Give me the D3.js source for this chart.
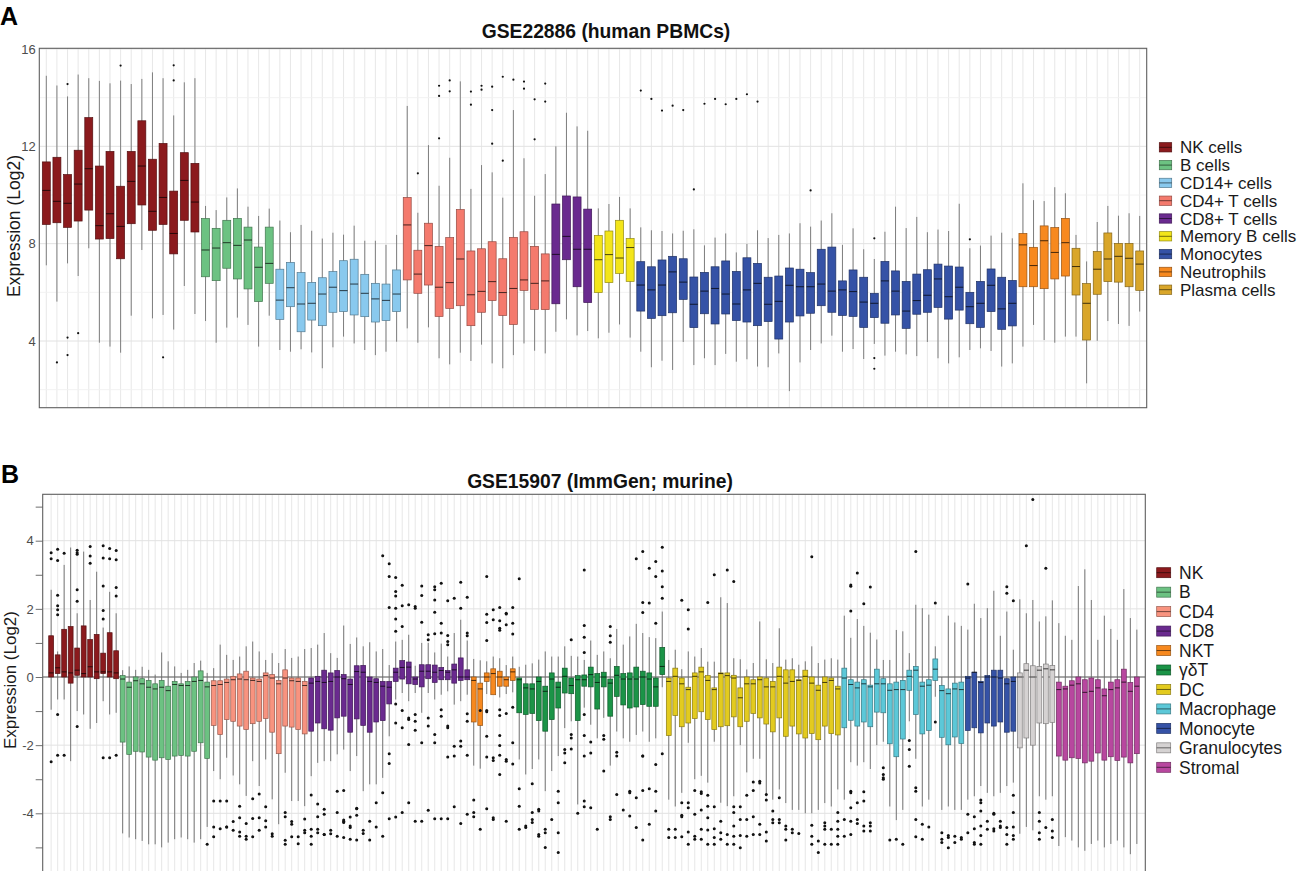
<!DOCTYPE html>
<html><head><meta charset="utf-8">
<script src="https://cdn.jsdelivr.net/npm/d3@7"></script>
<style>body{margin:0;background:#fff}svg{display:block;font-family:"Liberation Sans",Arial,Helvetica,sans-serif}</style>
</head><body>
<svg id="c" width="1299" height="871"></svg>
<script>
// ===== Panel A: GSE22886 (human PBMCs) — rows: [lowWhisker, Q1, median, Q3, highWhisker, outliers]
const aGroups = ["NK cells","B cells","CD14+ cells","CD4+ T cells","CD8+ T cells","Memory B cells","Monocytes","Neutrophils","Plasma cells"];
const aColors = ["#8b1a1d","#6cc282","#89c9ee","#f47a6d","#6a2a8f","#f3e51a","#3552a6","#f7891f","#d9a62a"];
const aNK = [
 [7.11,8.79,10.19,11.36,14.9,[]],[5.62,8.86,9.74,11.55,14.5,[3.12]],[7.19,8.67,9.66,10.84,14.05,[14.56,4.14,3.42]],
 [6.67,8.93,10.45,11.84,14.95,[4.32]],[7.81,9.38,11.08,13.18,14.8,[]],[3.93,8.19,8.74,11.19,14.69,[]],
 [3.77,8.21,9.23,11.79,14.59,[]],[3.52,7.38,8.71,10.36,14.7,[15.32]],[5.04,8.82,10.56,11.79,14.56,[]],
 [7.74,9.59,11.19,13.05,14.77,[]],[4.93,8.55,9.33,11.47,15.04,[]],[5.07,8.79,9.9,12.12,14.8,[3.33]],
 [4.47,7.58,8.42,10.16,13.27,[15.33,14.71]],[6.26,8.96,10.6,11.74,14.63,[]],[5.11,8.48,9.71,11.3,14.8,[]]];
const aB = [
 [4.82,6.64,7.74,9.03,9.55],[3.93,6.48,7.82,8.63,9.38],[4.55,6.99,8.04,8.96,9.9],[4.96,6.55,7.93,9.04,10.27],
 [4.66,6.14,8.15,8.68,9.52],[3.77,5.62,7.03,7.86,9.14],[5.04,6.37,7.19,8.68,9.44]];
const aCD14 = [
 [3.63,4.89,5.68,6.95,8.95],[3.56,5.41,6.19,7.23,8.47],[3.66,4.38,5.52,6.81,8.77],[3.53,4.86,5.55,6.41,8.53],
 [2.88,4.63,5.93,6.6,8.21],[3.74,5.18,6.21,6.85,8.45],[4.18,5.21,6.07,7.3,8.37],[3.9,5.07,6.34,7.36,8.74],
 [3.63,5.0,5.96,6.74,8.12],[3.42,4.78,5.73,6.37,8.12],[3.56,4.84,5.67,6.34,7.95],[3.97,5.21,5.93,6.92,8.36]];
const aCD4 = [
 [4.52,6.51,8.77,9.9,13.66,[]],[3.93,5.96,6.75,7.73,9.27,[10.89]],[4.56,6.3,7.92,8.84,12.05,[]],
 [3.29,5.01,6.21,7.89,10.38,[14.49,14.07,12.33]],[3.04,5.34,6.4,8.25,11.53,[14.71,14.26]],[3.52,5.45,7.37,9.4,14.67,[]],
 [3.18,4.63,5.9,7.7,10.25,[14.25,13.71]],[3.85,5.18,6.04,7.79,11.23,[14.49,14.33]],[3.08,5.66,6.44,8.08,10.93,[14.45,13.49,12.11]],
 [2.88,5.05,5.99,7.38,9.89,[14.86,11.41]],[3.42,4.68,6.16,8.26,13.49,[14.74]],[3.9,6.08,6.51,8.49,11.51,[14.66,14.37]],
 [3.6,5.3,6.37,7.89,9.97,[13.93,12.29]],[3.49,5.29,6.47,7.58,10.86,[14.58,13.84]]];
const aCD8 = [[4.38,5.53,7.56,9.63,12.0],[4.89,7.34,8.3,9.96,13.38],[4.23,6.23,7.77,9.92,12.82],[4.41,5.58,7.77,9.42,12.64]];
const aMemB = [[4.11,5.99,7.34,8.34,9.45],[4.34,6.4,7.55,8.52,9.63],[4.68,6.78,7.41,8.96,9.92],[4.14,6.45,7.84,8.21,9.45]];
const aMono = [
 [3.56,5.23,6.3,7.26,8.67,[14.29]],[2.92,4.93,6.1,7.05,8.55,[13.95]],[3.19,5.04,6.3,7.33,8.52,[13.47]],
 [2.81,5.16,6.84,7.48,8.42,[13.67]],[3.96,5.71,6.42,7.38,8.53,[13.49]],[3.01,4.55,5.51,6.63,8.59,[10.23]],
 [3.29,5.12,6.05,6.82,7.93,[13.75]],[3.01,4.7,6.16,7.05,8.25,[13.95]],[3.47,5.11,5.93,7.29,8.42,[13.73]],
 [3.15,4.84,5.52,6.86,7.64,[13.95]],[3.25,4.78,6.1,7.42,7.99,[14.14]],[2.95,4.63,6.37,7.19,8.55,[13.84]],
 [2.92,4.8,5.51,6.62,8.23,[]],[3.49,4.08,5.63,6.67,8.36,[]],[1.94,4.78,6.29,7.0,8.42,[]],
 [3.12,5.03,6.23,6.95,8.84,[]],[3.63,5.14,6.23,6.81,8.7,[10.19]],[3.9,5.45,6.34,7.77,8.95,[]],
 [4.22,5.18,6.05,7.86,9.25,[]],[3.56,5.05,6.1,6.47,7.95,[]],[3.67,5.01,6.03,6.92,8.63,[]],
 [3.26,4.56,5.6,6.62,7.77,[]],[3.88,4.96,5.55,5.96,7.37,[8.22,3.3,2.86]],[3.4,4.73,6.47,7.27,8.49,[]],
 [3.56,5.07,6.05,6.88,9.52,[]],[3.45,4.52,5.23,6.45,8.64,[]],[3.38,5.1,5.66,6.75,9.1,[]],
 [3.96,5.18,5.88,6.93,8.47,[]],[3.29,5.38,6.55,7.16,8.58,[]],[3.08,4.9,5.82,7.08,8.52,[]],
 [3.33,5.27,6.21,7.04,9.64,[]],[3.63,4.71,5.41,6.0,7.81,[8.18]],[3.7,4.56,5.55,6.45,7.92,[]],
 [3.59,5.21,6.29,6.96,8.33,[]],[2.95,4.48,5.32,6.62,8.45,[]],[3.08,4.62,5.55,6.49,8.22,[]]];
const aNeut = [[3.77,6.23,7.95,8.42,10.48],[4.66,6.23,7.1,7.85,9.79],[4.04,6.15,8.12,8.73,9.75],[3.93,6.55,7.64,8.66,10.32],[4.18,6.67,8.04,9.04,10.07]];
const aPlasma = [[4.18,5.89,7.06,7.81,8.36],[2.26,4.04,5.55,6.36,7.27],[4.01,5.92,6.95,7.68,8.89],[4.82,6.44,7.37,8.44,9.55],[4.7,6.42,7.48,8.01,9.15],[4.62,6.23,7.4,8.01,9.25],[5.21,6.08,7.16,7.7,9.14]];
const aMajorTicks = [4,8,12,16];
const aMinorTicks = [2,6,10,14];

// ===== Panel B: GSE15907 (ImmGen; murine)
const bGroups = ["NK","B","CD4","CD8","NKT","γδT","DC","Macrophage","Monocyte","Granulocytes","Stromal"];
const bColors = ["#8b1a1d","#6cc282","#f8937f","#6a2a8f","#f7891f","#1b9447","#e3cb1f","#5cc8d8","#3552a6","#d5d2d2","#b8479f"];
const bNK = [
 [-0.96,0,0.12,1.21,2.56,[3.47,3.65,-2.49]],[-0.66,0.1,0.27,0.65,0.75,[3.75,3.42,2.4,2.09,1.97,1.83,-1.1,-2.3]],
 [-0.66,0,0.15,1.4,3.29,[3.63,-2.3]],[-2.47,-0.18,0.12,1.48,3.8,[]],[-1.0,0.05,0.2,0.85,1.87,[3.6,3.72,3.65,2.56,2.22,-1.45]],
 [-1.1,0,0.1,1.5,3.68,[]],[-1.52,0,0.3,1.1,2.26,[3.83,3.55,3.34]],[-1.35,-0.05,0.15,1.25,3.09,[]],
 [-0.71,0.1,0.15,0.7,1.45,[3.85,3.49,2.67,1.95,1.7,-2.37]],[-1.1,0,0.15,1.3,2.5,[3.47,3.77,-2.37]],
 [-1.05,-0.05,0.12,0.77,1.87,[3.71,3.44,2.63,2.38,-2.3]]];
const bB = [
 [-4.59,-1.91,-0.06,0.04,0.2],[-4.71,-2.27,-0.3,-0.15,0.31],[-4.76,-2.18,-0.11,0,0.21],[-4.81,-2.2,-0.2,-0.05,0.3],
 [-4.91,-2.35,-0.3,-0.1,0.21],[-4.91,-2.44,-0.35,-0.2,0.07],[-5.0,-2.37,-0.3,-0.1,0.72],[-4.86,-2.42,-0.4,-0.27,0.46],
 [-4.76,-2.32,-0.22,-0.13,0.31],[-4.71,-2.3,-0.25,-0.2,0.12],[-4.76,-2.32,-0.25,-0.13,0.21],[-4.86,-2.18,-0.13,0,0.41],
 [-4.76,-1.93,-0.1,0.18,0.48],[-4.4,-2.39,-0.29,-0.15,0.12,[-4.91]]];
const bCD4 = [
 [-2.76,-1.42,-0.25,-0.11,0.26,[-3.64,-4.69,-4.4]],[-3.0,-1.69,-0.22,-0.11,0.95,[-4.45,-3.64]],
 [-2.37,-1.25,-0.16,-0.06,0.65,[-4.4,-4.4,-3.64]],[-2.89,-1.3,-0.08,0.02,0.5,[-4.24,-4.5]],
 [-3.15,-1.44,-0.06,0.09,0.6,[-4.13,-3.79,-4.55,-4.67]],[-3.49,-1.54,-0.08,0.17,0.9,[-4.3,-4.67,-4.76]],
 [-2.47,-1.37,-0.1,-0.03,1.04,[-4.15,-4.69,-3.57]],[-3.2,-1.3,-0.13,-0.06,0.75,[-3.43,-4.5,-4.13]],
 [-2.42,-1.22,0.04,0.12,0.5,[-3.81,-4.22,-4.4]],[-3.59,-1.62,-0.03,0.07,0.7,[-4.6,-4.67]],
 [-4.32,-2.25,-0.2,-0.1,0.41,[]],[-2.81,-1.44,-0.03,0.21,0.82,[-3.98,-4.1,-4.79,-4.91]],
 [-3.64,-1.47,-0.11,-0.03,0.56,[-4.24,-4.69,-4.32]],[-3.64,-1.54,-0.13,-0.03,0.6,[-4.89,-4.69]],
 [-3.79,-1.67,-0.25,-0.13,0.82,[-4.57,-4.5,-4.17]]];
const bCD8 = [
 [-2.91,-1.59,-0.18,-0.03,0.85,[-4.91,-3.46,-4.47,-4.67]],[-2.52,-1.35,-0.13,0.02,0.95,[-4.57,-3.73,-4.1,-4.47]],
 [-2.47,-1.52,-0.16,0.2,1.29,[-4.62,-4.03,-4.62,-3.88]],[-2.47,-1.56,-0.13,0.12,0.7,[-4.5,-4.6]],
 [-2.27,-1.2,0,0.19,0.56,[-3.35,-4.67,-3.98]],[-2.13,-1.15,-0.05,0.07,1.51,[-4.2,-4.27,-3.33,-4.23,-4.71]],
 [-2.76,-1.62,-0.22,-0.06,0.97,[-4.11,-4.37,-4.42,-4.76]],[-2.32,-1.23,0.16,0.33,1.16,[-4.78,-3.85,-3.87,-4.06]],
 [-3.35,-1.42,0.14,0.34,0.9,[-4.5,-4.59]],[-3.15,-1.62,-0.13,0,1.02,[-4.23,-4.78]],
 [-3.15,-1.32,-0.16,-0.05,0.75,[-4.4,-3.69]],[-2.96,-1.28,-0.27,-0.13,0.82,[3.56,-3.4,-4.67]],
 [-1.74,-0.79,-0.3,-0.13,0.35,[3.32,2.95,2.04,-2.25,-2.54,-4.16]],
 [-0.66,-0.13,0.14,0.26,1.04,[2.92,2.51,2.38,2.02,1.7,1.34,-0.79,-1.35,-4.11]],
 [-0.47,-0.06,0.28,0.48,1.09,[2.09,1.48,2.69,-1.49,-0.98,-3.98]],
 [-0.71,-0.2,0.29,0.44,1.24,[2.12,-1.25,-1.98,-1.2,-3.69]],
 [-0.47,-0.22,-0.06,0,0.33,[2.07,2.02,-1.1,-1.3,-1.56,-4.23]],
 [-1.05,-0.29,0.17,0.36,1.0,[2.67,2.39,1.61,-1.93,-4.23]],
 [-0.47,-0.05,0.17,0.36,1.0,[1.09,1.24,-1.2,-1.44,-3.91]],
 [-0.66,-0.16,0.14,0.35,0.72,[2.65,2.56,2.26,1.9,1.27,-1.93,-1.69,-4.16]],
 [-0.52,-0.08,0.19,0.28,0.98,[2.75,1.58,1.29,-0.96,-1.15,-4.16]],
 [-0.42,-0.08,0.14,0.19,0.6,[1.22,1.04,0.95,2.24,-1.44,-1.49,-2.35,-4.16]],
 [-0.81,-0.18,0.21,0.38,1.29,[2.31,-2.03,-2.32,-3.81]],
 [-0.71,-0.1,0,0.56,1.68,[2.78,2.02,-2.03,-1.88,-4.3]],
 [-0.52,-0.08,0,0.21,1.07,[2.34,1.29,1.21,-2.3,-1.08,-1.3,-4.03]]];
const bNKT = [
 [-2.6,-1.32,-0.1,0,0.53,[-4.1,-3.98,-3.61]],[-2.69,-1.42,-0.35,-0.18,0.49,[-4.47,-0.98]],
 [-0.5,-0.13,0,0.12,0.46,[2.95,1.84,1.6,1.07,-0.98,-1.02,-1.74,-2.35,-3.87]],
 [-0.4,-0.52,0.1,0.24,0.6,[1.68,1.97,-2.37,-2.45,-4.13,-4.18]],
 [-0.6,-0.27,0,0.17,0.55,[1.65,2.04,1.43,1.37,-0.96,-1.13,-1.72,-2.01,-2.3,-2.86]],
 [-0.5,-0.27,-0.08,0,0.35,[1.85,1.87,1.53,-2.42,-2.47,-1.07,-4.23]],
 [-0.45,-0.1,0.15,0.24,0.6,[1.58,2.04,1.26,-0.89,-1.93,-2.55]]];
const bGD = [
 [-2.42,-1.05,-0.08,-0.03,0.3,[2.88,-3.28,-3.79,-4.47]],[-2.86,-1.1,-0.32,-0.2,0.36,[-4.42,-4.37]],
 [-2.7,-1.07,-0.35,-0.2,0.4,[-3.13,-3.98,-4.18,-4.27]],[-2.42,-1.28,-0.13,0,0.51,[-3.88,-3.93,-4.62,-4.67]],
 [-3.35,-1.59,-0.42,-0.27,0.75,[-4.47,-5.0,-4.57]],[-2.76,-1.25,-0.06,0.12,0.6,[-4.18]],
 [-2.32,-0.91,-0.3,-0.15,0.6,[-3.35,-5.15,-3.69,-4.57]],[-1.5,-0.47,0.02,0.26,0.9,[-2.13,-2.23,-2.52]],
 [-1.3,-0.49,-0.25,-0.03,0.62,[1.09,-1.69,-1.79,-2.11]],[-3.74,-1.28,-0.08,0.04,0.6,[-4.0]],
 [-0.9,-0.27,-0.08,0.06,0.5,[3.14,1.51,1.17,0.72,-1.1,-1.72,-2.32,-3.64,-3.81]],
 [-1.4,-0.29,0.07,0.29,1.07,[-1.91,-2.23,-3.84]],[-1.8,-0.94,-0.16,0.1,0.65,[-4.47]],
 [-1.2,-0.29,0,0.14,0.75,[-1.72,-1.83,-2.76]],[-2.6,-1.15,-0.18,-0.06,0.55,[1.48,1.21,1.02,-4.18,-4.1]],
 [-1.6,-0.57,0.05,0.31,1.41,[-2.21,-2.32,-3.45]],[-1.8,-0.82,-0.06,0.1,0.95,[-3.9]],
 [-1.9,-0.91,-0.06,0.12,1.19,[-3.35,-3.4,-4.08]],[-1.7,-0.88,-0.06,0.29,1.56,[3.47,-3.54,-4.42]],
 [-1.6,-0.81,0,0.17,1.29,[3.68,1.89,2.19,-3.33,-2.32,-2.32,-4.78]],[-1.9,-0.86,-0.06,0.12,1.17,[3.19,2.17,-3.28,-4.32]],
 [-1.8,-0.86,-0.29,-0.03,1.14,[3.39,2.95,1.58,-2.57,-3.35,-3.93]],[-0.3,0.07,0.31,0.87,1.92,[3.81,3.11,2.65,2.31,-2.25]]];
const bDC = [
 [-3.6,-1.72,-0.13,-0.03,0.5,[-4.47,-4.71]],[-3.8,-1.13,0.02,0.26,0.8,[-4.47,-4.71]],
 [-3.4,-1.46,-0.2,-0.03,0.23,[2.25,-3.69,-4.1,-4.69,-4.06]],[-1.93,-1.35,-0.37,-0.3,0.75,[1.97,1.41,-3.69,-3.84,-4.55,-4.91]],
 [-3.0,-1.22,0.02,0.12,0.6,[-3.33,-4.03,-4.67,-4.76]],[-2.9,-1.02,0.15,0.29,0.85,[-3.37,-3.42,-3.9,-4.47,-4.76]],
 [-3.1,-1.25,-0.1,0.04,0.45,[2.19,-3.47,-3.79,-4.13,-4.49,-4.91]],[-1.9,-1.54,-0.37,-0.32,0.45,[3.0,-3.81,-4.45,-4.71,-4.91]],
 [-3.69,-1.46,0.1,0.12,2.34,[-4.23,-4.57,-4.76]],[-3.79,-1.43,0.04,0.12,2.17,[3.14,-4.62,-4.91]],
 [-3.5,-1.17,-0.03,0.05,0.55,[2.8,-3.81,-3.98,-4.37,-4.67,-4.91]],[-2.0,-1.46,-0.61,-0.32,0.52,[-3.81,-4.18,-4.65,-5.01]],
 [-2.8,-1.3,-0.2,0,0.22,[-3.47,-4.18,-4.67]],[-2.4,-1.07,-0.2,-0.08,0.41,[-3.08,-3.33,-4.1,-4.62]],
 [-2.4,-1.2,-0.08,0,1.63,[-3.06,-3.11,-4.32,-4.62]],[-3.5,-1.38,-0.29,-0.03,0.52,[-3.45,-3.61,-4.55,-4.81]],
 [-3.6,-1.61,-0.29,-0.13,0.41,[-3.93,-4.18,-4.28]],[-3.3,-1.2,0.02,0.29,1.43,[-3.54,-4.18,-4.28]],
 [-3.7,-1.74,-0.18,0.21,0.51,[-4.37,-4.47,-4.78]],[-3.9,-1.44,-0.13,0.21,0.55,[-4.47,-4.57]],
 [-3.9,-1.67,-0.1,-0.08,0.36,[-4.59]],[-4.0,-1.79,0.02,0.2,0.46,[]],
 [-4.0,-1.66,-0.18,0,0.9,[3.53,-4.35,-4.67,-4.91]],[-3.9,-1.84,-0.39,-0.24,0.41,[-4.81,-5.15]],
 [-3.7,-1.44,-0.16,0,0.51,[-4.28,-4.37,-4.47,-4.91]],[-3.8,-1.66,-0.1,-0.03,0.55,[-4.47,-4.91]],
 [-3.3,-1.7,-0.35,-0.27,0.51,[-3.98,-4.23,-4.47,-4.67,-4.91]]];
const bMac = [
 [-3.6,-1.49,-0.03,0.26,1.8,[-4.18,-4.67]],[-2.5,-1.27,-0.22,-0.08,1.15,[1.94,2.66,2.7,-3.35,-3.4,-3.84,-4.23,-4.62]],
 [-2.6,-1.44,-0.32,-0.15,1.7,[3.05,-3.69,-4.18,-4.3]],[-2.5,-1.32,-0.2,-0.08,1.5,[2.15,-3.37,-3.64,-4.37,-4.52]],
 [-2.7,-1.46,-0.29,-0.24,1.3,[2.64,-4.28,-4.37,-4.52]],[-2.0,-1.03,-0.2,0.23,1.1,[]],
 [-1.9,-1.05,-0.2,-0.05,0.5,[-2.66,-2.86,-3.0,-2.96]],[-3.8,-1.96,-0.39,-0.2,0.5,[-4.78]],
 [-4.2,-2.34,-0.37,-0.15,1.38,[-4.76]],[-3.9,-1.82,-0.37,-0.1,1.34,[-4.91]],
 [-1.3,-0.39,0.02,0.2,0.7,[-1.86,-2.13,-2.62]],[-2.4,-1.1,0.2,0.31,2.12,[3.68,-3.25,-3.35,-4.18,-4.69]],
 [-3.8,-1.67,-0.27,-0.15,2.02,[-4.32,-4.76]],[-3.6,-1.57,-0.24,-0.08,1.83,[-4.4]],
 [-0.58,-0.1,0.23,0.53,0.9,[2.17,-1.32]],[-3.9,-1.77,-0.4,-0.25,0.0,[-4.57,-4.76,-4.86]],
 [-3.8,-1.99,-0.49,-0.35,1.8,[-4.65,-5.01,-4.71]],[-3.9,-1.76,-0.35,-0.18,1.6,[-4.67,-4.86]],
 [-3.9,-1.95,-0.37,-0.15,1.5,[-4.76,-4.71]]];
const bMono = [
 [-3.6,-1.57,-0.03,0.02,1.39,[2.73,-4.03,-4.57]],[-3.5,-1.49,0.14,0.14,2.15,[-4.1,-4.45,-4.86,-4.91]],
 [-3.2,-1.64,-0.16,-0.13,1.73,[-3.93,-4.37,-4.91,-4.65,-3.61,-3.69]],[-3.4,-1.35,0,0.04,2.02,[-4.23,-4.47]],
 [-3.5,-1.44,0,0.2,2.53,[-4.03,-4.45,-4.52,-4.0]],[-3.4,-1.32,-0.03,0.2,1.21,[-4.23,-4.37,-4.42]],
 [-3.2,-1.62,-0.2,-0.05,1.92,[2.65,2.46,-4.42,-4.62,-4.91]],[-3.1,-1.59,-0.13,0,0.8,[2.24,-3.98,-4.4,-4.65,-3.47,-4.76]]];
const bGran = [
 [-4.6,-2.08,0,0.12,2.28,[]],[-4.4,-1.79,0.2,0.39,1.87,[3.85]],[-4.5,-2.0,0,0.33,2.26,[5.21]],
 [-3.5,-1.35,0.2,0.31,1.63,[-3.98,-4.23,-4.57,-4.76]],[-3.6,-1.37,0.24,0.38,1.78,[3.19,-4.42]],
 [-3.5,-1.33,0.21,0.34,2.25,[-4.18,-4.52,-4.71]]];
const bStromal = [
 [-4.96,-2.32,-0.37,-0.15,1.58],[-4.7,-2.44,-0.35,-0.27,1.21],[-4.8,-2.37,-0.24,-0.11,1.09],[-5.0,-2.39,-0.2,0,2.67],
 [-5.1,-2.52,-0.45,-0.08,3.16],[-4.9,-2.47,-0.42,-0.03,2.26],[-4.8,-2.23,-0.32,-0.08,1.09],[-5.0,-2.44,-0.55,-0.35,1.8],
 [-4.9,-2.34,-0.37,-0.15,1.41],[-4.8,-2.45,-0.32,-0.08,1.09],[-5.0,-2.35,-0.15,0.23,2.58],[-5.2,-2.52,-0.42,-0.16,1.73],
 [-4.9,-2.25,-0.27,0,1.39]];
const bMajorTicks = [-4,-2,0,2,4];
const bAllTicks = [-5,-4,-3,-2,-1,0,1,2,3,4,5];

// ===== drawing
const svg = d3.select("#c");
const FONT = '"Liberation Sans",Arial,Helvetica,sans-serif';

function buildBoxes(colors, groupsData) {
  const out = [];
  groupsData.forEach((rows, gi) => rows.forEach(r => out.push({
    g: gi, color: colors[gi], lo: r[0], q1: Math.min(r[1], r[3]), med: r[2], q3: Math.max(r[1], r[3]), hi: r[4], outl: r[5] || []
  })));
  return out;
}

function drawPanel(o) {
  const boxes = o.boxes;
  const x = d3.scalePoint().domain(d3.range(boxes.length)).range([o.x0, o.x1]).padding(o.pad);
  const y = d3.scaleLinear().domain(o.yDomain).range(o.yRange);
  const root = svg.append("g");
  root.append("clipPath").attr("id", o.id).append("rect")
    .attr("x", o.x0).attr("y", o.top).attr("width", o.x1 - o.x0).attr("height", o.bottom - o.top);
  const pg = root.append("g").attr("clip-path", `url(#${o.id})`);
  pg.append("rect").attr("x", o.x0).attr("y", o.top).attr("width", o.x1 - o.x0).attr("height", o.bottom - o.top).attr("fill", "#fff");
  pg.append("g").selectAll("line").data(boxes).join("line")
    .attr("x1", (d, i) => x(i)).attr("x2", (d, i) => x(i)).attr("y1", o.top).attr("y2", o.bottom)
    .attr("stroke", "#e4e4e4").attr("stroke-width", 0.9);
  pg.append("g").selectAll("line").data(o.minor).join("line")
    .attr("x1", o.x0).attr("x2", o.x1).attr("y1", d => y(d)).attr("y2", d => y(d))
    .attr("stroke", "#f0f0f0").attr("stroke-width", 0.9);
  pg.append("g").selectAll("line").data(o.major).join("line")
    .attr("x1", o.x0).attr("x2", o.x1).attr("y1", d => y(d)).attr("y2", d => y(d))
    .attr("stroke", "#e2e2e2").attr("stroke-width", 1);
  if (o.zeroLine) {
    pg.append("line").attr("x1", o.x0).attr("x2", o.x1).attr("y1", y(0)).attr("y2", y(0))
      .attr("stroke", "#3a3a3a").attr("stroke-width", 0.8);
  }
  const bw = x.step() * 0.75;
  pg.append("g").selectAll("line").data(boxes).join("line")
    .attr("x1", (d, i) => x(i)).attr("x2", (d, i) => x(i))
    .attr("y1", d => y(d.lo)).attr("y2", d => y(d.hi))
    .attr("stroke", "#6a6a6a").attr("stroke-width", o.whiskerW);
  pg.append("g").selectAll("rect").data(boxes).join("rect")
    .attr("x", (d, i) => x(i) - bw / 2).attr("width", bw)
    .attr("y", d => y(d.q3)).attr("height", d => Math.max(0.5, y(d.q1) - y(d.q3)))
    .attr("fill", d => d.color).attr("stroke", d => d3.color(d.color).darker(1.4)).attr("stroke-width", 0.7);
  pg.append("g").selectAll("line").data(boxes).join("line")
    .attr("x1", (d, i) => x(i) - bw / 2).attr("x2", (d, i) => x(i) + bw / 2)
    .attr("y1", d => y(d.med)).attr("y2", d => y(d.med))
    .attr("stroke", "rgba(0,0,0,0.72)").attr("stroke-width", 1);
  const pts = boxes.flatMap((d, i) => d.outl.map(v => ({ i, v })));
  pg.append("g").selectAll("circle").data(pts).join("circle")
    .attr("cx", d => x(d.i)).attr("cy", d => y(d.v)).attr("r", o.dotR).attr("fill", "#111");
  root.append("rect").attr("x", o.x0).attr("y", o.top).attr("width", o.x1 - o.x0).attr("height", o.bottom - o.top)
    .attr("fill", "none").attr("stroke", "#5f5f5f").attr("stroke-width", 1.1);
  const ax = d3.axisLeft(y).tickValues(o.tickVals).tickSize(o.tickSize).tickPadding(o.tickPad)
    .tickFormat(d => o.major.includes(d) ? String(d) : "");
  const axg = root.append("g").attr("transform", `translate(${o.x0},0)`).call(ax);
  axg.select(".domain").remove();
  axg.selectAll(".tick line").attr("stroke", "#5f5f5f").attr("stroke-width", 0.9);
  axg.selectAll(".tick text").attr("fill", "#4d4d4d").style("font-size", "13px").style("font-family", FONT);
  root.append("text").attr("transform", `translate(${o.ylabX},${o.ylabY}) rotate(-90)`)
    .attr("text-anchor", "middle").style("font-size", o.ylabFont + "px").style("font-family", FONT).attr("fill", "#1a1a1a")
    .text("Expression (Log2)");
  root.append("text").attr("x", o.titleX).attr("y", o.titleY).attr("text-anchor", "middle")
    .style("font-size", "19.3px").style("font-weight", "bold").style("font-family", FONT).attr("fill", "#111")
    .text(o.title);
  root.append("text").attr("x", o.letterX).attr("y", o.letterY)
    .style("font-size", "25px").style("font-weight", "bold").style("font-family", FONT).attr("fill", "#000")
    .text(o.letter);
  const lg = root.append("g");
  o.legendNames.forEach((name, i) => {
    const cy = o.legY0 + i * o.legStep;
    const c = o.legColors[i];
    lg.append("rect").attr("x", o.legX).attr("y", cy - o.keyH / 2).attr("width", o.keyW).attr("height", o.keyH)
      .attr("fill", c).attr("stroke", d3.color(c).darker(1.4)).attr("stroke-width", 0.7);
    lg.append("line").attr("x1", o.legX).attr("x2", o.legX + o.keyW).attr("y1", cy).attr("y2", cy)
      .attr("stroke", "rgba(0,0,0,0.6)").attr("stroke-width", 0.9);
    lg.append("text").attr("x", o.legX + o.legTextDx).attr("y", cy + o.legFont * 0.36)
      .style("font-size", o.legFont + "px").style("font-family", FONT).attr("fill", "#1a1a1a").text(name);
  });
}

drawPanel({
  id: "clipA", letter: "A", letterX: 0, letterY: 24.5,
  title: "GSE22886 (human PBMCs)", titleX: 606, titleY: 37.5,
  boxes: buildBoxes(aColors, [aNK, aB, aCD14, aCD4, aCD8, aMemB, aMono, aNeut, aPlasma]),
  x0: 39.3, x1: 1146.7, pad: 0.66, top: 48.3, bottom: 407.7,
  yDomain: [4, 16], yRange: [341, 49],
  major: aMajorTicks, minor: aMinorTicks, tickVals: aMajorTicks, tickSize: 0, tickPad: 3.5,
  zeroLine: false, whiskerW: 0.85, dotR: 1.1,
  ylabX: 19.5, ylabY: 226, ylabFont: 17.5,
  legendNames: aGroups, legColors: aColors, legX: 1159.3, legY0: 147.3, legStep: 17.8, keyW: 12.4, keyH: 9.3, legTextDx: 20.7, legFont: 17
});

drawPanel({
  id: "clipB", letter: "B", letterX: 1, letterY: 482.7,
  title: "GSE15907 (ImmGen; murine)", titleX: 600, titleY: 487.7,
  boxes: buildBoxes(bColors, [bNK, bB, bCD4, bCD8, bNKT, bGD, bDC, bMac, bMono, bGran, bStromal]),
  x0: 42.7, x1: 1145.3, pad: 1.3, top: 494.3, bottom: 905,
  yDomain: [-4, 4], yRange: [813.3, 540.7],
  major: bMajorTicks, minor: [], tickVals: bAllTicks, tickSize: 7, tickPad: 2,
  zeroLine: true, whiskerW: 0.9, dotR: 1.5,
  ylabX: 16, ylabY: 680, ylabFont: 17,
  legendNames: bGroups, legColors: bColors, legX: 1156.7, legY0: 572.7, legStep: 19.46, keyW: 14, keyH: 10, legTextDx: 22.3, legFont: 17.5
});
</script>
</body></html>
